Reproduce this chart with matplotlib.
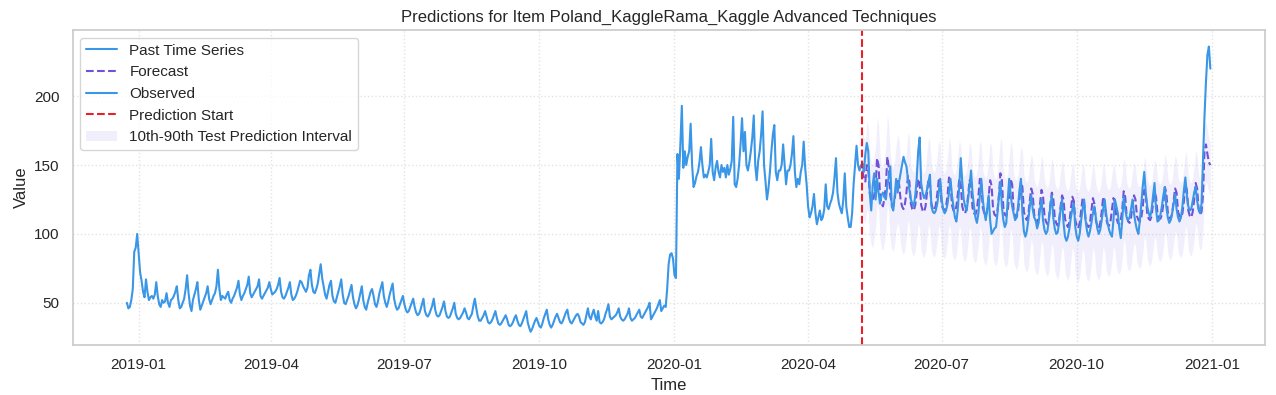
import numpy as np
import pandas as pd
import matplotlib
matplotlib.use("Agg")
import matplotlib.pyplot as plt
import matplotlib.dates as mdates
import seaborn as sns

# Daily values, one line per week (Mon..Sun), from 2018-12-24
past_values = [
    50, 46, 47, 52, 60, 87, 90,
    100, 86, 72, 66, 58, 54, 67,
    58, 52, 54, 55, 53, 56, 65,
    55, 49, 47, 52, 50, 51, 57,
    50, 47, 52, 53, 55, 58, 62,
    52, 46, 47, 50, 53, 60, 70,
    57, 48, 44, 52, 56, 60, 65,
    52, 45, 48, 51, 54, 57, 62,
    53, 49, 52, 55, 57, 62, 74,
    60, 52, 55, 54, 53, 56, 58,
    52, 50, 53, 55, 58, 61, 66,
    56, 52, 55, 57, 60, 63, 69,
    57, 54, 56, 58, 60, 62, 67,
    55, 53, 55, 57, 59, 61, 65,
    60, 56, 57, 58, 60, 63, 68,
    58, 54, 53, 55, 58, 61, 65,
    56, 52, 53, 55, 58, 62, 66,
    65, 62, 60, 58, 61, 70, 74,
    63, 58, 57, 60, 64, 71, 78,
    68, 62, 56, 53, 58, 63, 66,
    55, 51, 50, 54, 58, 62, 67,
    56, 50, 49, 52, 55, 59, 63,
    54, 49, 46, 48, 52, 57, 62,
    52, 47, 45, 50, 54, 58, 60,
    55, 49, 47, 51, 57, 61, 65,
    55, 50, 47, 51, 56, 60, 64,
    53, 48, 45, 46, 49, 52, 55,
    49, 45, 43, 44, 47, 50, 53,
    47, 43, 41, 42, 45, 49, 53,
    44, 41, 40, 42, 45, 48, 53,
    45, 41, 40, 41, 44, 47, 51,
    44, 40, 39, 40, 43, 46, 50,
    42, 39, 38, 39, 41, 43, 46,
    43, 39, 38, 40, 42, 48, 53,
    46, 40, 37, 37, 39, 41, 44,
    40, 36, 35, 36, 38, 41, 44,
    39, 35, 34, 35, 37, 39, 41,
    38, 34, 33, 34, 36, 39, 41,
    37, 34, 33, 35, 38, 41, 44,
    36, 32, 29, 31, 34, 37, 39,
    36, 33, 32, 35, 39, 42, 45,
    38, 34, 32, 34, 37, 40, 42,
    39, 36, 35, 37, 40, 43, 45,
    39, 36, 35, 37, 39, 41, 42,
    40, 36, 35, 34, 36, 41, 46,
    40, 38, 42, 45, 40, 37, 44,
    36, 35, 36, 38, 42, 45, 49,
    40, 38, 39, 40, 41, 43, 46,
    40, 38, 37, 38, 40, 42, 46,
    39, 37, 38, 39, 41, 43, 45,
    40, 39, 41, 43, 45, 47, 50,
    38, 40, 42, 44, 46, 49, 52,
    44, 46, 48, 47, 60, 78, 85,
    86, 82, 70, 68, 158, 140, 165,
    193, 148, 160, 150, 156, 160, 180,
    150, 134, 137, 142, 145, 152, 163,
    150, 141, 143, 141, 145, 150, 169,
    145, 139, 148, 153, 145, 141, 150,
    145, 148, 141, 150, 143, 147, 153,
    185, 136, 134, 140, 150, 165, 184,
    160, 174, 150, 146, 152, 160, 170,
    186, 150, 139, 153, 160, 172, 189,
    150, 138, 125, 133, 145, 160, 172,
    179, 145, 139, 146, 146, 150, 165,
    150, 136, 146, 146, 150, 158, 171,
    145, 134, 140, 136, 145, 150, 167,
    148, 136, 120, 112, 115, 120, 129,
    115, 107, 112, 117, 110, 112, 118,
    136, 120, 118, 122, 125, 130, 141,
    155, 130, 122, 118, 115, 125, 144,
    120, 112, 105, 105, 115, 136, 150,
    164, 150, 146, 150,
]

# Test period, daily from 2020-05-08, one line per month
observed_values = [
    151, 145, 158, 166, 160, 130, 117, 135, 144, 125, 140, 130, 122, 128, 130, 127, 125, 135, 142, 149, 120, 117, 128, 140,
    130, 138, 144, 150, 156, 152, 149, 140, 132, 125, 122, 120, 128, 140, 160, 170, 137, 130, 126, 128, 132, 138, 143, 120, 116, 115, 117, 122, 130, 140,
    125, 118, 115, 117, 122, 130, 140, 128, 120, 112, 109, 118, 135, 155, 138, 125, 120, 117, 125, 135, 146, 130, 120, 112, 108, 115, 128, 140, 125, 116, 110,
    118, 128, 110, 100, 102, 104, 105, 115, 127, 138, 120, 110, 105, 108, 125, 140, 128, 120, 115, 110, 112, 120, 132, 140, 115, 102, 98, 102, 110, 120, 128,
    118, 112, 110, 104, 108, 118, 125, 110, 103, 100, 102, 110, 120, 128, 112, 104, 100, 101, 108, 118, 125, 108, 98, 95, 98, 104, 112, 118, 122, 105,
    98, 95, 100, 110, 118, 125, 110, 102, 98, 102, 108, 115, 120, 112, 104, 100, 103, 110, 118, 125, 115, 108, 103, 100, 98, 110, 125, 120, 115, 104, 97,
    110, 127, 118, 112, 110, 112, 118, 125, 115, 108, 103, 100, 110, 122, 135, 145, 130, 120, 115, 112, 118, 128, 137, 118, 109, 110, 114, 120, 128, 134,
    120, 112, 108, 110, 115, 122, 129, 118, 112, 109, 112, 120, 132, 141, 128, 120, 117, 118, 124, 130, 134, 124, 118, 115, 122, 153, 185, 210, 230, 236, 220,
]

# Forecast median and 10th / 90th quantiles, from 2020-05-08 (Fri..Sun, then Mon..Sun weeks)
forecast_values = [
    146, 140, 138,
    150, 147, 130, 125, 124, 128, 135,
    155, 150, 128, 122, 120, 126, 135,
    156, 148, 128, 122, 120, 125, 135,
    140, 136, 125, 120, 118, 122, 130,
    142, 138, 122, 118, 117, 121, 130,
    140, 137, 121, 117, 116, 120, 130,
    140, 136, 122, 118, 117, 121, 129,
    139, 136, 121, 118, 117, 120, 128,
    141, 137, 121, 117, 116, 120, 129,
    140, 136, 120, 116, 115, 119, 128,
    139, 135, 119, 115, 114, 118, 127,
    140, 136, 119, 115, 113, 117, 127,
    139, 135, 118, 114, 113, 117, 128,
    144, 139, 119, 114, 113, 117, 128,
    140, 136, 117, 113, 112, 116, 126,
    138, 134, 116, 112, 110, 114, 124,
    133, 129, 114, 110, 108, 112, 122,
    132, 128, 113, 109, 107, 111, 121,
    130, 126, 112, 108, 106, 110, 120,
    128, 125, 111, 107, 105, 109, 118,
    127, 124, 110, 106, 104, 108, 117,
    126, 123, 110, 106, 105, 108, 117,
    126, 122, 110, 106, 104, 108, 116,
    127, 123, 111, 107, 106, 109, 118,
    126, 123, 112, 108, 107, 110, 118,
    131, 127, 113, 109, 108, 112, 121,
    128, 125, 113, 110, 109, 112, 120,
    132, 128, 115, 111, 110, 113, 122,
    130, 127, 115, 112, 111, 114, 122,
    134, 130, 116, 112, 111, 115, 124,
    133, 130, 116, 113, 112, 115, 124,
    136, 132, 117, 113, 112, 116, 125,
    137, 133, 118, 114, 116, 128, 160,
    165, 158, 152, 150,
]

upper_values = [
    175, 170, 168,
    182, 178, 160, 152, 150, 156, 165,
    185, 180, 158, 150, 148, 155, 165,
    187, 178, 158, 150, 148, 154, 165,
    172, 168, 153, 148, 146, 150, 160,
    174, 170, 150, 146, 145, 149, 160,
    172, 168, 149, 145, 144, 148, 160,
    170, 166, 150, 146, 145, 149, 158,
    168, 165, 148, 145, 144, 147, 157,
    170, 166, 148, 144, 143, 147, 158,
    168, 164, 147, 143, 142, 146, 156,
    167, 163, 146, 142, 141, 145, 155,
    168, 164, 146, 142, 140, 144, 155,
    167, 163, 145, 141, 140, 144, 156,
    170, 166, 146, 141, 140, 144, 156,
    167, 163, 144, 140, 139, 143, 154,
    164, 160, 143, 139, 137, 141, 151,
    158, 154, 140, 136, 134, 138, 148,
    157, 153, 139, 135, 133, 137, 147,
    155, 151, 138, 134, 132, 136, 146,
    153, 150, 137, 133, 131, 135, 144,
    152, 149, 136, 132, 130, 134, 143,
    151, 148, 136, 132, 131, 134, 143,
    151, 147, 136, 132, 130, 134, 142,
    152, 148, 137, 133, 132, 135, 144,
    151, 148, 138, 134, 133, 136, 144,
    155, 151, 138, 134, 133, 137, 146,
    152, 149, 138, 135, 134, 137, 145,
    156, 152, 140, 136, 135, 138, 147,
    154, 151, 140, 137, 136, 139, 147,
    158, 154, 141, 137, 136, 140, 149,
    157, 154, 141, 138, 137, 140, 149,
    160, 156, 142, 138, 137, 141, 150,
    161, 157, 143, 139, 141, 153, 178,
    182, 176, 170, 166,
]

lower_values = [
    115, 110, 108,
    118, 115, 98, 92, 90, 96, 105,
    122, 118, 96, 90, 88, 94, 104,
    122, 115, 95, 89, 87, 93, 103,
    108, 104, 92, 87, 85, 89, 98,
    110, 106, 90, 85, 84, 88, 98,
    108, 104, 88, 84, 83, 87, 97,
    107, 103, 88, 84, 83, 87, 96,
    106, 103, 87, 83, 82, 86, 95,
    107, 103, 86, 82, 81, 85, 95,
    106, 102, 85, 81, 80, 84, 94,
    105, 101, 84, 80, 79, 83, 93,
    105, 101, 83, 79, 77, 81, 92,
    104, 100, 82, 78, 77, 81, 92,
    108, 103, 82, 77, 76, 80, 92,
    104, 100, 80, 76, 74, 78, 89,
    101, 97, 78, 74, 72, 76, 87,
    96, 92, 76, 72, 70, 74, 85,
    95, 91, 75, 71, 69, 73, 84,
    93, 89, 73, 69, 67, 71, 82,
    91, 88, 72, 68, 66, 70, 80,
    90, 87, 71, 67, 65, 69, 79,
    89, 86, 71, 67, 66, 69, 79,
    90, 86, 72, 68, 66, 70, 79,
    91, 87, 74, 70, 69, 72, 81,
    91, 88, 76, 72, 71, 74, 82,
    96, 92, 78, 74, 73, 77, 86,
    94, 91, 79, 76, 75, 78, 86,
    99, 95, 82, 78, 77, 80, 89,
    98, 95, 84, 81, 80, 83, 90,
    102, 98, 86, 82, 81, 85, 93,
    102, 99, 87, 84, 83, 86, 94,
    106, 102, 89, 85, 84, 88, 96,
    108, 104, 92, 88, 90, 102, 130,
    138, 134, 130, 128,
]

past_start = "2018-12-24"
test_start = "2020-05-08"
item_name = "Poland_KaggleRama_Kaggle Advanced Techniques"

for name, vals in [("forecast", forecast_values), ("upper", upper_values), ("lower", lower_values)]:
    assert len(vals) == len(observed_values), (name, len(vals), len(observed_values))

past_dates = pd.date_range(past_start, periods=len(past_values), freq="D")
test_dates = pd.date_range(test_start, periods=len(observed_values), freq="D")

sns.set_theme(style="whitegrid")
plt.rcParams["font.family"] = ["Liberation Sans", "DejaVu Sans"]

fig, ax = plt.subplots(figsize=(12.76, 3.95), dpi=100)
fig.subplots_adjust(left=0.057, right=0.991, top=0.924, bottom=0.127)

line_color = "#3a96e6"
fc_color = "#6f52d6"

h_past, = ax.plot(past_dates, past_values, color=line_color, lw=1.5, label="Past Time Series")
h_fc, = ax.plot(test_dates, forecast_values, color=fc_color, lw=1.5, ls="--", label="Forecast")
h_obs, = ax.plot(test_dates, observed_values, color=line_color, lw=1.5, label="Observed")
h_start = ax.axvline(pd.Timestamp(test_start), color="#e8202a", ls="--", lw=1.5, label="Prediction Start")
h_band = ax.fill_between(test_dates, lower_values, upper_values, color="#9a80f0", alpha=0.12,
                         lw=0, label="10th-90th Test Prediction Interval")

ax.set_ylim(19.5, 248)
ax.xaxis.set_major_locator(mdates.MonthLocator(bymonth=[1, 4, 7, 10]))
ax.xaxis.set_major_formatter(mdates.DateFormatter("%Y-%m"))
ax.grid(True, ls=":", lw=1, color="#e3e3e3")
ax.tick_params(labelsize=11)

ax.set_title(f"Predictions for Item {item_name}", fontsize=12)
ax.set_xlabel("Time", fontsize=12)
ax.set_ylabel("Value", fontsize=12)
ax.legend(handles=[h_past, h_fc, h_obs, h_start, h_band], loc="upper left", fontsize=11)

fig.savefig("out.png", dpi=100)
